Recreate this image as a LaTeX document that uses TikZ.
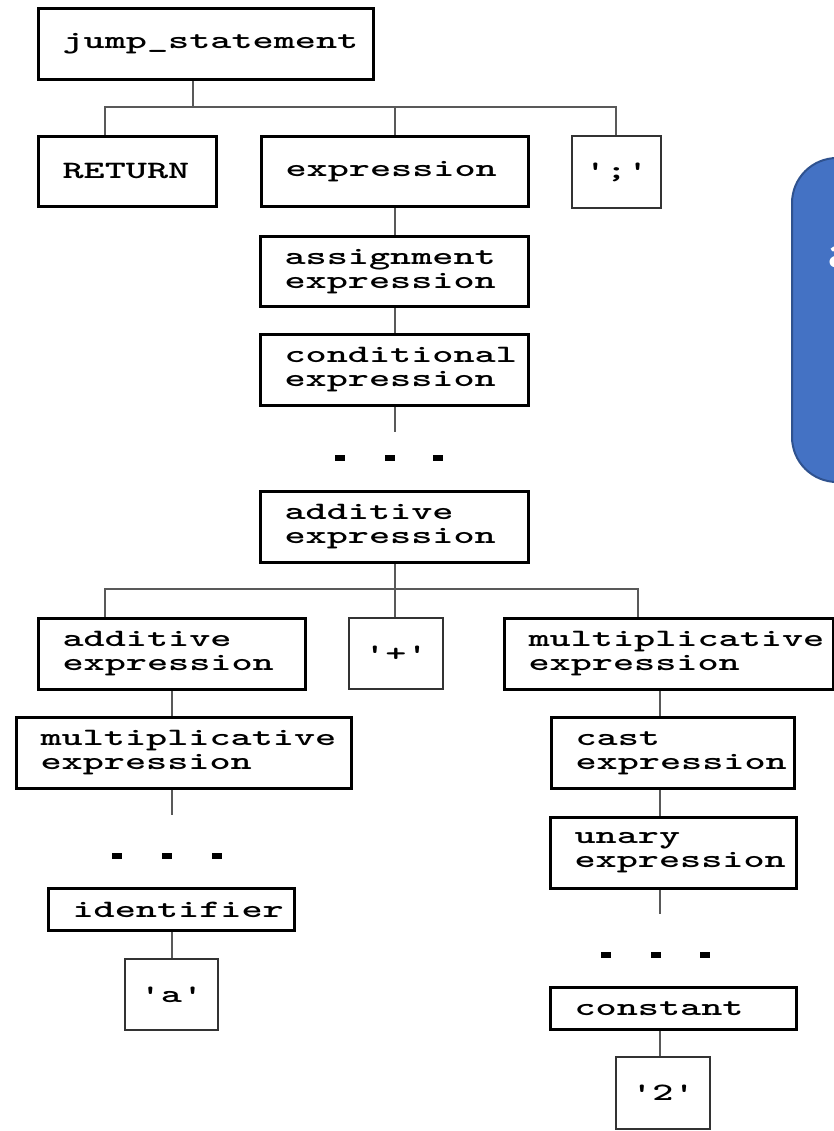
\documentclass[tikz,border=0pt]{standalone}
\usepackage{fontspec}
\newfontfamily\codefont{lmmonolt10-bold.otf}[FakeStretch=1.61]
\newfontfamily\calloutfont{Carlito}
\definecolor{calloutfill}{HTML}{4472C4}
\definecolor{calloutedge}{HTML}{2F528F}
\hyphenpenalty=10000
\exhyphenpenalty=10000
\begin{document}
\begin{tikzpicture}[x=1pt, y=-1pt,
  codetext/.style={font=\codefont\fontsize{25}{24}\selectfont},
  rulebox/.style={codetext, draw=black, line width=3pt, rectangle, anchor=north west,
    inner ysep=0pt, inner xsep=24pt, align=left},
  tokenbox/.style={codetext, draw=black!80, line width=2pt, rectangle, anchor=north west,
    inner sep=0pt, align=center},
  link/.style={draw=black!65, line width=2pt},
  dotmark/.style={fill=black, rectangle, inner sep=0pt, minimum width=10pt, minimum height=6pt},
  callout/.style={fill=calloutfill, draw=calloutedge, line width=2pt, rounded corners=45pt}
]
\useasboundingbox (0,0) rectangle (834,1131);
\clip (0,0) rectangle (834,1131);
\fill[white] (0,0) rectangle (834,1131);

% callout at the right edge
\draw[callout] (792,158) rectangle (1000,482);
\node[anchor=base west, inner sep=0pt, text=white,
  font=\calloutfont\bfseries\fontsize{44}{50}\selectfont] (notetext) at (828,268) {a};

% top level
\node[rulebox, minimum width=335pt, minimum height=71pt, text width=287pt] (jump) at (37,7) {jump\_statement};
\node[rulebox, minimum width=178pt, minimum height=70pt, text width=130pt] (ret) at (37,135) {RETURN};
\node[rulebox, minimum width=267pt, minimum height=70pt, text width=219pt] (expr) at (260,135) {expression};
\node[tokenbox, minimum width=89pt, minimum height=72pt] (semi) at (571,135) {';'};

% middle chain
\node[rulebox, minimum width=268pt, minimum height=70pt, text width=220pt] (assign) at (259,235) {assignment\\expression};
\node[rulebox, minimum width=268pt, minimum height=71pt, text width=220pt] (cond) at (259,333) {conditional\\expression};
\node[dotmark] (dm1) at (340,458) {};
\node[dotmark] (dm2) at (390,458) {};
\node[dotmark] (dm3) at (438,458) {};
\node[rulebox, minimum width=268pt, minimum height=71pt, text width=220pt] (addt) at (259,490) {additive\\expression};

% additive expression children
\node[rulebox, minimum width=267pt, minimum height=71pt, text width=219pt] (addl) at (37,617) {additive\\expression};
\node[tokenbox, minimum width=94pt, minimum height=71pt] (plus) at (348,617) {'+'};
\node[rulebox, minimum width=329pt, minimum height=71pt, text width=281pt] (multr) at (503,617) {multiplicative\\expression};

% left chain
\node[rulebox, minimum width=335pt, minimum height=71pt, text width=287pt] (multl) at (15,716) {multiplicative\\expression};
\node[dotmark] (dl1) at (117,856) {};
\node[dotmark] (dl2) at (167,856) {};
\node[dotmark] (dl3) at (217,856) {};
\node[rulebox, minimum width=246pt, minimum height=42pt, text width=198pt] (ident) at (47,887) {identifier};
\node[tokenbox, minimum width=93pt, minimum height=71pt] (qa) at (124,958) {'a'};

% right chain
\node[rulebox, minimum width=243pt, minimum height=71pt, text width=195pt] (cast) at (550,716) {cast\\expression};
\node[rulebox, minimum width=246pt, minimum height=71pt, text width=198pt] (unary) at (549,816) {unary\\expression};
\node[dotmark] (dr1) at (606,955) {};
\node[dotmark] (dr2) at (656,955) {};
\node[dotmark] (dr3) at (705,955) {};
\node[rulebox, minimum width=246pt, minimum height=42pt, text width=198pt] (const) at (549,986) {constant};
\node[tokenbox, minimum width=94pt, minimum height=72pt] (q2) at (615,1056) {'2'};

% branch points and columns
\coordinate (b1J) at (193,107);
\coordinate (b1L) at (105,107);
\coordinate (b1M) at (395,107);
\coordinate (b1R) at (616,107);
\coordinate (b2L) at (105,589);
\coordinate (b2M) at (395,589);
\coordinate (b2R) at (638,589);
\coordinate (colL) at (172,0);
\coordinate (colM) at (395,0);
\coordinate (colR) at (660,0);
\coordinate (stubM) at (395,432);
\coordinate (stubL) at (172,815);
\coordinate (stubR) at (660,914);

% connectors
\draw[link] (jump.south -| b1J) -- (b1J);
\draw[link] (ret.north -| b1L) -- (b1L) -- (b1R) -- (semi.north -| b1R);
\draw[link] (b1M) -- (expr.north -| b1M);
\draw[link] (expr.south -| colM) -- (assign.north -| colM);
\draw[link] (assign.south -| colM) -- (cond.north -| colM);
\draw[link] (cond.south -| colM) -- (stubM);
\draw[link] (addt.south -| b2M) -- (b2M);
\draw[link] (addl.north -| b2L) -- (b2L) -- (b2R) -- (multr.north -| b2R);
\draw[link] (b2M) -- (plus.north -| b2M);
\draw[link] (addl.south -| colL) -- (multl.north -| colL);
\draw[link] (multl.south -| colL) -- (stubL);
\draw[link] (ident.south -| colL) -- (qa.north -| colL);
\draw[link] (multr.south -| colR) -- (cast.north -| colR);
\draw[link] (cast.south -| colR) -- (unary.north -| colR);
\draw[link] (unary.south -| colR) -- (stubR);
\draw[link] (const.south -| colR) -- (q2.north -| colR);
\end{tikzpicture}
\end{document}
